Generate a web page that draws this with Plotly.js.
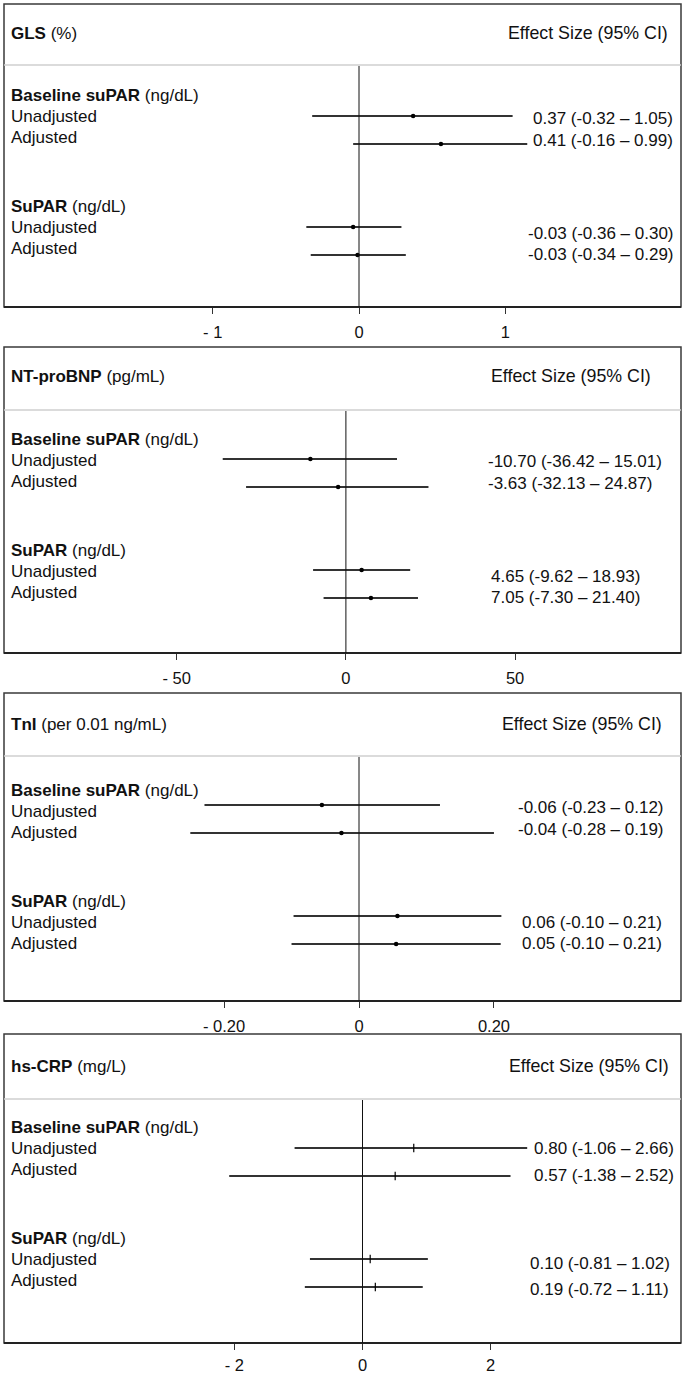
<!DOCTYPE html>
<html>
<head>
<meta charset="utf-8">
<script src="https://cdn.plot.ly/plotly-3.0.1.min.js"></script>
<style>html,body{margin:0;padding:0;background:#fff;}#chart{width:685px;height:1373px;}</style>
</head>
<body>
<div id="chart"></div>
<script>
// ---------- DATA ----------
const outcomes = ['GLS', 'NT-proBNP', 'TnI', 'hs-CRP'];
const outcomeUnits = ['(%)', '(pg/mL)', '(per 0.01 ng/mL)', '(mg/L)'];
const groupNames = ['Baseline suPAR', 'SuPAR'];
const groupUnit = '(ng/dL)';
const modelNames = ['Unadjusted', 'Adjusted'];
const headerRight = 'Effect Size (95% CI)';

// rows per panel: Baseline-Unadj, Baseline-Adj, SuPAR-Unadj, SuPAR-Adj (as drawn)
const glsEst = [0.37, 0.56, -0.04, -0.01];
const glsLo  = [-0.32, -0.04, -0.36, -0.33];
const glsHi  = [1.05, 1.15, 0.29, 0.32];
const glsText = ['0.37 (-0.32 – 1.05)', '0.41 (-0.16 – 0.99)', '-0.03 (-0.36 – 0.30)', '-0.03 (-0.34 – 0.29)'];

const bnpEst = [-10.5, -2.3, 4.65, 7.4];
const bnpLo  = [-36.4, -29.5, -9.7, -6.6];
const bnpHi  = [15.1, 24.4, 19.0, 21.3];
const bnpText = ['-10.70 (-36.42 – 15.01)', '-3.63 (-32.13 – 24.87)', '4.65 (-9.62 – 18.93)', '7.05 (-7.30 – 21.40)'];

const tniEst = [-0.055, -0.026, 0.057, 0.055];
const tniLo  = [-0.229, -0.25, -0.097, -0.10];
const tniHi  = [0.120, 0.20, 0.211, 0.21];
const tniText = ['-0.06 (-0.23 – 0.12)', '-0.04 (-0.28 – 0.19)', '0.06 (-0.10 – 0.21)', '0.05 (-0.10 – 0.21)'];

const crpEst = [0.80, 0.51, 0.12, 0.20];
const crpLo  = [-1.06, -2.08, -0.82, -0.90];
const crpHi  = [2.57, 2.31, 1.02, 0.94];
const crpText = ['0.80 (-1.06 – 2.66)', '0.57 (-1.38 – 2.52)', '0.10 (-0.81 – 1.02)', '0.19 (-0.72 – 1.11)'];

const tickVals = [[-1, 0, 1], [-50, 0, 50], [-0.2, 0, 0.2], [-2, 0, 2]];
const tickText = [['- 1', '0', '1'], ['- 50', '0', '50'], ['- 0.20', '0', '0.20'], ['- 2', '0', '2']];

// ---------- LAYOUT GEOMETRY (pixels) ----------
const W = 685, H = 1373;
const FONT = '"Liberation Sans", Arial, sans-serif';
const FS = 17;
const FS_HEAD = 17.8;
const boxLeft = 4, boxRight = 681;
const panelGeom = [
  {top: 4,    bottom: 307,  zeroPx: 359,   pxPerUnit: 146.3,  divider: 61, header: 29, shift: 0, ehX: 506, ciX: [531, 526], marker: 'circle'},
  {top: 347,  bottom: 653,  zeroPx: 345.9, pxPerUnit: 3.384,  divider: 63, header: 29, shift: 1, ehX: 489, ciX: [486, 489], marker: 'circle'},
  {top: 693,  bottom: 1001, zeroPx: 359,   pxPerUnit: 674.75, divider: 63, header: 31, shift: 6, ehX: 500, ciX: [516, 520], marker: 'circle'},
  {top: 1034, bottom: 1343, zeroPx: 362.5, pxPerUnit: 64.08,  divider: 65, header: 32, shift: 2, ehX: 507, ciX: [532, 528], marker: 'line-ns'}
];
const lineRowsY = [112, 140, 223, 251];
const groupLabelY = [91, 202];
const modelLabelY = [[112, 133], [223, 244]];
const ciLabelY = [114, 136, 229, 250];

const panelData = [
  {est: glsEst, lo: glsLo, hi: glsHi, txt: glsText},
  {est: bnpEst, lo: bnpLo, hi: bnpHi, txt: bnpText},
  {est: tniEst, lo: tniLo, hi: tniHi, txt: tniText},
  {est: crpEst, lo: crpLo, hi: crpHi, txt: crpText}
];

const traces = [];
const layout = {
  width: W, height: H,
  margin: {l: 0, r: 0, t: 0, b: 0},
  paper_bgcolor: '#fff', plot_bgcolor: 'rgba(0,0,0,0)',
  showlegend: false,
  font: {family: FONT, size: FS, color: '#111'},
  annotations: [], shapes: []
};

panelGeom.forEach((g, i) => {
  const n = i + 1;
  const xa = n === 1 ? 'x' : 'x' + n;
  const ya = n === 1 ? 'y' : 'y' + n;
  const ph = g.bottom - g.top;
  const d = panelData[i];

  layout['xaxis' + (n === 1 ? '' : n)] = {
    domain: [boxLeft / W, boxRight / W],
    anchor: ya,
    range: [(boxLeft - g.zeroPx) / g.pxPerUnit, (boxRight - g.zeroPx) / g.pxPerUnit],
    showgrid: false, zeroline: false, showline: false,
    ticks: 'outside', ticklen: 6, tickwidth: 1, tickcolor: '#333',
    tickvals: tickVals[i], ticktext: tickText[i],
    ticklabelstandoff: i === 3 ? 1 : 4,
    tickfont: {family: FONT, size: 16.5, color: '#111'},
    fixedrange: true
  };
  layout['yaxis' + (n === 1 ? '' : n)] = {
    domain: [1 - g.bottom / H, 1 - g.top / H],
    anchor: xa,
    range: [ph, 0],
    visible: false, showgrid: false, zeroline: false,
    fixedrange: true
  };

  // box
  layout.shapes.push({type: 'rect', xref: xa + ' domain', yref: ya + ' domain', x0: 0, x1: 1, y0: 0, y1: 1,
    line: {color: '#3a3a3a', width: 1.5}, layer: 'above'});
  // bottom (axis) border, slightly heavier
  layout.shapes.push({type: 'line', xref: xa + ' domain', yref: ya + ' domain', x0: 0, x1: 1, y0: 0, y1: 0,
    line: {color: '#222', width: 2}, layer: 'above'});
  // header divider
  layout.shapes.push({type: 'line', xref: xa + ' domain', yref: ya, x0: 0, x1: 1, y0: g.divider, y1: g.divider,
    line: {color: '#cfcfcf', width: 1.5}});
  // zero line
  layout.shapes.push({type: 'line', xref: xa, yref: ya, x0: 0, x1: 0, y0: g.divider + 1, y1: ph,
    line: {color: '#111', width: 1}});

  // CI lines + points
  const ys = lineRowsY.map(v => v + (i === 3 ? 2 : 0));
  traces.push({
    type: 'scatter', mode: 'markers', xaxis: xa, yaxis: ya,
    x: d.est, y: ys,
    error_x: {type: 'data', symmetric: false,
      array: d.hi.map((h, k) => h - d.est[k]),
      arrayminus: d.est.map((e, k) => e - d.lo[k]),
      color: '#333', thickness: 1.8, width: 0},
    marker: g.marker === 'circle'
      ? {symbol: 'circle', size: 4.5, color: '#000'}
      : {symbol: 'line-ns', size: 6, line: {color: '#000', width: 1.2}},
    hoverinfo: 'skip', cliponaxis: false
  });

  // header texts
  layout.annotations.push({xref: 'paper', yref: ya, x: 9 / W, y: g.header, xanchor: 'left', yanchor: 'middle',
    text: '<b>' + outcomes[i] + '</b> ' + outcomeUnits[i], showarrow: false, font: {family: FONT, size: FS, color: '#111'}});
  layout.annotations.push({xref: 'paper', yref: ya, x: g.ehX / W, y: g.header, xanchor: 'left', yanchor: 'middle',
    text: headerRight, showarrow: false, font: {family: FONT, size: FS_HEAD, color: '#111'}});

  // group + model labels
  groupNames.forEach((gn, gi) => {
    layout.annotations.push({xref: 'paper', yref: ya, x: 9 / W, y: groupLabelY[gi] + g.shift, xanchor: 'left', yanchor: 'middle',
      text: '<b>' + gn + '</b> ' + groupUnit, showarrow: false, font: {family: FONT, size: FS, color: '#111'}});
    modelNames.forEach((mn, mi) => {
      layout.annotations.push({xref: 'paper', yref: ya, x: 9 / W, y: modelLabelY[gi][mi] + g.shift, xanchor: 'left', yanchor: 'middle',
        text: mn, showarrow: false, font: {family: FONT, size: FS, color: '#111'}});
    });
  });

  // CI text labels
  d.txt.forEach((t, k) => {
    layout.annotations.push({xref: 'paper', yref: ya, x: g.ciX[k < 2 ? 0 : 1] / W, y: ciLabelY[k] + (i === 3 && k % 2 === 1 ? 5 : 0),
      xanchor: 'left', yanchor: 'middle', text: t, showarrow: false, font: {family: FONT, size: FS, color: '#111'}});
  });
});

Plotly.newPlot('chart', traces, layout, {staticPlot: true, displayModeBar: false});
</script>
</body>
</html>
